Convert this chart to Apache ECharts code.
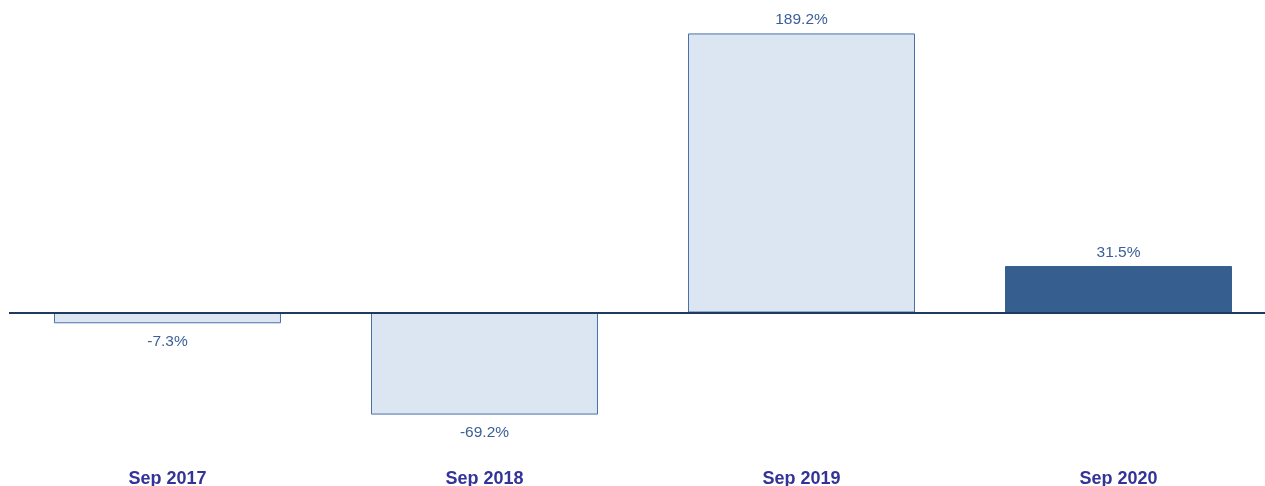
<!DOCTYPE html>
<html>
<head>
<meta charset="utf-8">
<script src="https://cdn.jsdelivr.net/npm/echarts@6/dist/echarts.min.js"></script>
<style>
  html, body { margin: 0; padding: 0; background: #fff; }
  #main { width: 1265px; height: 486px; }
</style>
</head>
<body>
<div id="main"></div>
<script>
var categories = ["Sep 2017", "Sep 2018", "Sep 2019", "Sep 2020"];
var values = [-7.3, -69.2, 189.2, 31.5];

var lightFill = "#dce6f2";
var darkFill = "#365f8f";

var barData = values.map(function (v, i) {
  var last = i === values.length - 1;
  return {
    value: v,
    itemStyle: {
      color: last ? darkFill : lightFill,
      borderColor: last ? darkFill : "#4a70a8",
      borderWidth: 1
    },
    label: { position: v < 0 ? "bottom" : "top", distance: v < 0 ? 10 : 5.5 }
  };
});

var myChart = echarts.init(document.getElementById("main"));
myChart.setOption({
  animation: false,
  grid: { left: 9, right: -12, top: 17.5, bottom: 26, outerBoundsMode: "none", containLabel: false },
  xAxis: {
    type: "category",
    data: categories,
    axisLine: { show: false, onZero: false },
    axisTick: { show: false },
    axisLabel: {
      margin: 10,
      color: "#333399",
      fontFamily: "Liberation Sans",
      fontWeight: "bold",
      fontSize: 18
    }
  },
  yAxis: {
    type: "value",
    min: -100,
    max: 200,
    show: false,
    splitLine: { show: false }
  },
  series: [
    {
      type: "bar",
      barWidth: "71.6%",
      data: barData,
      label: {
        show: true,
        color: "#3a5f96",
        fontFamily: "Liberation Sans",
        fontSize: 15.5,
        formatter: function (p) { return p.value.toFixed(1) + "%"; }
      },
      markLine: {
        silent: true,
        symbol: "none",
        label: { show: false },
        lineStyle: { color: "#1f3a60", width: 2, type: "solid" },
        data: [{ yAxis: 0 }],
        z: 10
      }
    }
  ]
});
</script>
</body>
</html>
